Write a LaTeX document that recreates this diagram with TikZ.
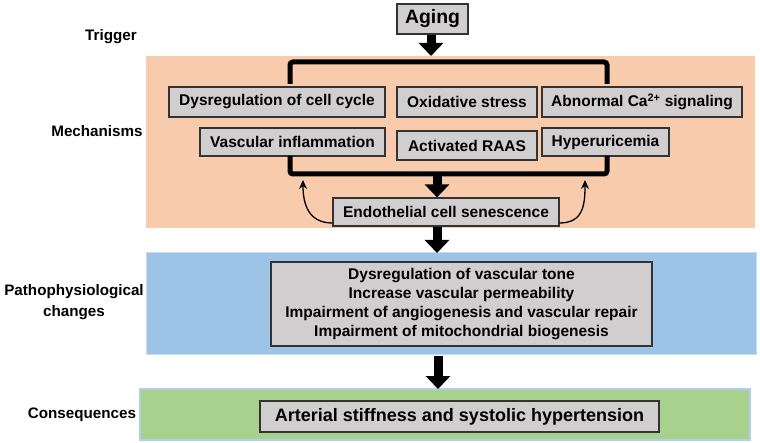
\documentclass[tikz,border=0pt]{standalone}
\usepackage{fontspec}
\setmainfont{Liberation Sans}
\usetikzlibrary{arrows.meta}
\definecolor{bandorange}{HTML}{F8CBAD}
\definecolor{bandblue}{HTML}{9DC3E6}
\definecolor{bandgreen}{HTML}{A9D18E}
\definecolor{boxgray}{HTML}{D0CECE}
\tikzset{
    box/.style={draw=black!80, fill=boxgray, line width=1.2pt, inner sep=0pt,
        font=\bfseries\fontsize{15.5}{18.7}\selectfont},
    lab/.style={font=\bfseries\fontsize{15.2}{20.5}\selectfont, align=center},
    bigarrow/.style={line width=9pt, -{Triangle[width=24pt,length=13pt]}},
    thinarrow/.style={line width=1.3pt, -{Stealth[length=9pt,width=8pt]}},
    bracket/.style={line width=5pt, rounded corners=3pt}
}
\begin{document}
\begin{tikzpicture}[x=1pt,y=-1pt]
        \useasboundingbox (0,0) rectangle (760,443);
        \fill[bandorange] (146,56) rectangle (755,228);
        \filldraw[fill=bandblue, draw=bandblue!60, line width=1pt] (146,253) rectangle (756,355);
        \filldraw[fill=bandgreen, draw=bandblue!80, line width=1.2pt] (140,389) rectangle (750,440);

        \node[lab] (trigger) at (111,37) {Trigger};
        \node[lab] (mech) at (97,131) {Mechanisms};
        \node[lab] (pchg) at (74,302) {Pathophysiological\\changes};
        \node[lab] (conseq) at (82,415) {Consequences};

        \node[box, minimum width=71pt, minimum height=30pt, font=\bfseries\fontsize{19.4}{22}\selectfont] (aging) at (432.5,19) {Aging};
        \node[box, minimum width=216pt, minimum height=30pt] (cycle) at (277,102) {Dysregulation of cell cycle};
        \node[box, minimum width=140pt, minimum height=30pt] (oxid) at (467,102) {Oxidative stress};
        \node[box, minimum width=200pt, minimum height=30pt] (calc) at (642,102) {Abnormal Ca\textsuperscript{2+} signaling};
        \node[box, minimum width=185pt, minimum height=28pt] (infl) at (292.5,142) {Vascular inflammation};
        \node[box, minimum width=140pt, minimum height=29pt] (raas) at (467,145.5) {Activated RAAS};
        \node[box, minimum width=127pt, minimum height=28pt] (uric) at (605.5,142) {Hyperuricemia};
        \node[box, minimum width=226pt, minimum height=28pt] (endo) at (446,212) {Endothelial cell senescence};
        \node[box, minimum width=381pt, minimum height=84pt, align=center] (patho) at (461.5,304) {Dysregulation of vascular tone\\Increase vascular permeability\\Impairment of angiogenesis and vascular repair\\Impairment of mitochondrial biogenesis};
        \node[box, minimum width=399pt, minimum height=31pt, font=\bfseries\fontsize{18}{21}\selectfont] (cons) at (459.5,416.5) {Arterial stiffness and systolic hypertension};

        \draw[bracket] (290,84) -- (290,62) -- (607,62) -- (607,84);
        \draw[bracket] (290,156) -- (290,174) -- (607,174) -- (607,156);

        \coordinate (mtop) at (431,56);
        \coordinate (brbot) at (437,176);
        \coordinate (bluetop) at (437,253);
        \coordinate (bluebot) at (438,356);
        \coordinate (greentop) at (438,389);
        \coordinate (ltip) at (303,180);
        \coordinate (rtip) at (585,180);
        \draw[bigarrow] (aging.south -| mtop) -- (mtop);
        \draw[bigarrow] (brbot) -- (brbot |- endo.north);
        \draw[bigarrow] (endo.south -| bluetop) -- (bluetop);
        \draw[bigarrow] (bluebot) -- (greentop);
        \draw[thinarrow] ([yshift=-11pt]endo.west) .. controls +(-24,0) and +(0,24) .. (ltip);
        \draw[thinarrow] ([yshift=-11pt]endo.east) .. controls +(24,0) and +(0,24) .. (rtip);
    \end{tikzpicture}
\end{document}
